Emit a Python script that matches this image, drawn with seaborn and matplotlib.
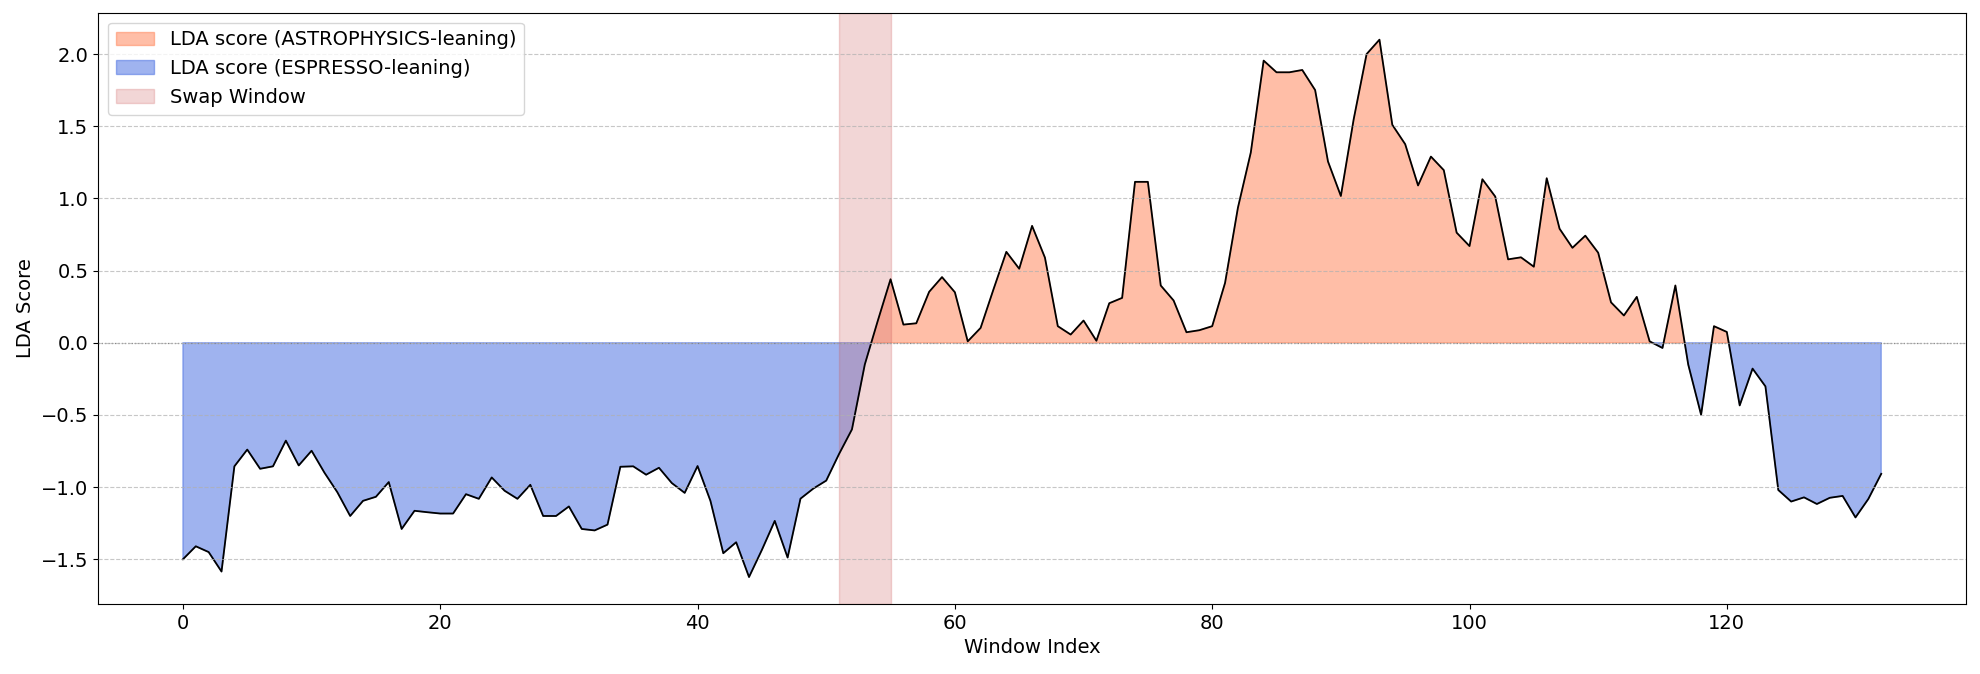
import numpy as np
import pandas as pd
import matplotlib
matplotlib.use("Agg")
import matplotlib.pyplot as plt
import seaborn as sns

# ---- data ----
window_index = list(range(133))
lda_scores = [
    -1.50, -1.41, -1.45, -1.585, -0.856, -0.74, -0.873, -0.856, -0.678, -0.85,
    -0.748, -0.90, -1.035, -1.20, -1.095, -1.067, -0.965, -1.29, -1.164, -1.174,
    -1.183, -1.183, -1.049, -1.081, -0.933, -1.025, -1.081, -0.984, -1.20, -1.20,
    -1.134, -1.29, -1.30, -1.26, -0.859, -0.856, -0.914, -0.866, -0.972, -1.04,
    -0.854, -1.095, -1.458, -1.382, -1.623, -1.435, -1.234, -1.488, -1.08, -1.01,
    -0.955, -0.77, -0.60, -0.15, 0.15, 0.44, 0.126, 0.135, 0.353, 0.455,
    0.35, 0.01, 0.103, 0.37, 0.63, 0.513, 0.81, 0.59, 0.115, 0.057,
    0.154, 0.014, 0.274, 0.311, 1.115, 1.115, 0.397, 0.293, 0.073, 0.087,
    0.115, 0.415, 0.936, 1.318, 1.955, 1.874, 1.874, 1.89, 1.751, 1.256,
    1.017, 1.55, 2.0, 2.10, 1.51, 1.376, 1.09, 1.29, 1.196, 0.763,
    0.67, 1.133, 1.013, 0.578, 0.592, 0.527, 1.14, 0.79, 0.658, 0.742,
    0.624, 0.28, 0.189, 0.318, 0.01, -0.036, 0.397, -0.151, -0.499, 0.115,
    0.075, -0.434, -0.179, -0.302, -1.02, -1.10, -1.071, -1.117, -1.074, -1.061,
    -1.21, -1.082, -0.908,
]
swap_window = [51, 55]
legend_labels = ["LDA score (ASTROPHYSICS-leaning)", "LDA score (ESPRESSO-leaning)", "Swap Window"]

df = pd.DataFrame({"Window Index": window_index, "LDA Score": lda_scores})
x = df["Window Index"].to_numpy()
y = df["LDA Score"].to_numpy()

plt.rcParams["font.family"] = ["DejaVu Sans"]
plt.rcParams["font.size"] = 14

fig, ax = plt.subplots(figsize=(19.8, 6.74), dpi=100)
fig.subplots_adjust(left=0.0495, right=0.993, top=0.981, bottom=0.104)

ax.fill_between(x, y, 0, where=y >= 0, interpolate=True, color="coral", alpha=0.5,
                label=legend_labels[0])
ax.fill_between(x, y, 0, where=y < 0, interpolate=True, color="royalblue", alpha=0.5,
                label=legend_labels[1])
sns.lineplot(data=df, x="Window Index", y="LDA Score", color="black", linewidth=1.3,
             ax=ax, legend=False)
ax.axvspan(swap_window[0], swap_window[1], color="indianred", alpha=0.25,
           label=legend_labels[2])
ax.axhline(0, color="gray", linestyle=":", linewidth=0.9)
ax.grid(axis="y", linestyle="--", alpha=0.7, color="#b0b0b0")
ax.set_axisbelow(False)

ax.set_xlabel("Window Index", fontsize=14)
ax.set_ylabel("LDA Score", fontsize=14)
ax.tick_params(labelsize=14)
ax.legend(loc="upper left", fontsize=14)

fig.savefig("out.png", dpi=100)
